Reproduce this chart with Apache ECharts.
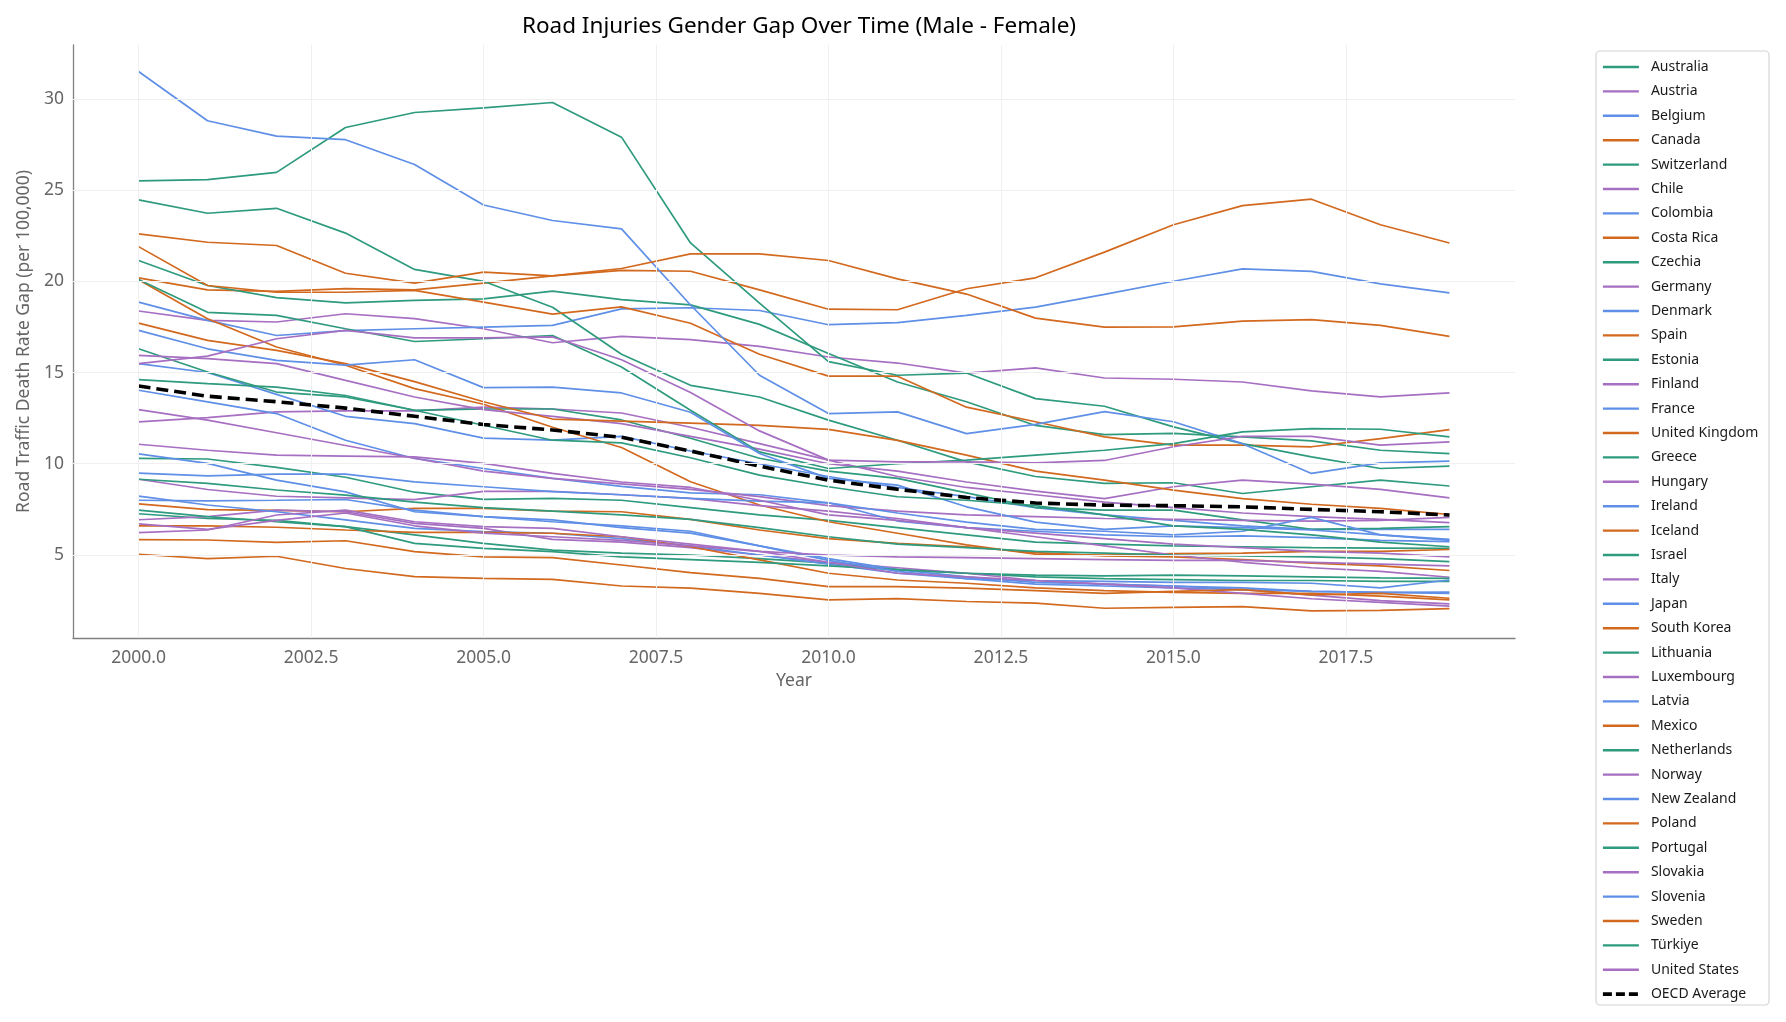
<!DOCTYPE html>
<html>
<head>
<meta charset="utf-8">
<script src="https://cdn.jsdelivr.net/npm/echarts@6/dist/echarts.min.js"></script>
<style>html,body{margin:0;padding:0;background:#fff}#c{width:1786px;height:1022px}</style>
</head>
<body>
<div id="c"></div>
<script>
const years = [2000,2001,2002,2003,2004,2005,2006,2007,2008,2009,2010,2011,2012,2013,2014,2015,2016,2017,2018,2019];
const xTicks = [2000,2002.5,2005,2007.5,2010,2012.5,2015,2017.5];
const yTicks = [5,10,15,20,25,30];

const australia    = [10.3,10.26,9.8,9.26,8.44,8.05,8.1,8.0,7.6,7.2,6.9,6.5,6.1,5.7,5.6,5.5,5.45,5.4,5.38,5.36];
const austria      = [12.3,12.53,12.84,12.9,12.9,13.1,13.0,12.78,12.0,11.1,10.2,9.3,8.7,8.3,7.9,7.6,7.3,7.1,6.95,6.77];
const belgium      = [15.49,15.0,13.8,12.6,12.2,11.4,11.3,11.5,10.7,10.0,9.3,8.7,8.2,7.6,7.2,6.9,6.6,6.4,6.4,6.4];
const canada       = [7.8,7.49,7.44,7.37,7.55,7.55,7.4,7.37,6.95,6.37,5.9,5.64,5.45,5.13,4.95,4.9,4.75,4.55,4.4,4.15];
const switzerland  = [7.26,7.0,6.9,6.55,6.1,5.64,5.27,5.1,5.0,4.8,4.55,4.2,4.0,3.8,3.7,3.65,3.6,3.6,3.55,3.55];
const chile        = [18.37,17.86,17.77,18.22,17.95,17.4,16.63,16.98,16.8,16.43,15.85,15.52,14.97,15.25,14.7,14.63,14.48,13.99,13.66,13.88];
const colombia     = [18.86,17.86,17.03,17.3,17.4,17.49,17.58,18.49,18.55,18.4,17.62,17.73,18.13,18.58,19.28,20.0,20.68,20.54,19.86,19.37];
const costaRica    = [20.19,19.53,19.45,19.6,19.53,19.9,20.3,20.6,20.55,19.53,18.47,18.44,19.59,20.19,21.6,23.1,24.15,24.5,23.1,22.1];
const czechia      = [16.3,15.03,13.93,13.66,12.93,13.0,13.0,12.4,11.4,10.3,9.6,9.2,8.4,7.6,7.46,7.46,6.92,6.41,6.46,6.55];
const germany      = [6.93,7.1,7.46,7.37,6.73,6.46,5.86,5.7,5.4,5.0,4.6,4.3,4.0,3.6,3.4,3.3,3.1,2.8,2.5,2.32];
const denmark      = [10.54,10.02,9.1,8.46,7.37,7.1,6.92,6.5,6.2,5.5,4.8,4.2,3.8,3.5,3.4,3.3,3.2,3.0,2.95,2.9];
const spain        = [20.08,17.95,16.4,15.4,14.12,13.26,12.0,10.89,9.01,7.74,6.82,6.19,5.55,5.05,5.0,5.07,5.1,5.2,5.2,5.3];
const estonia      = [24.46,23.73,24.0,22.64,20.65,20.0,18.58,16.0,14.3,13.66,12.39,11.29,10.1,9.3,8.92,8.96,8.37,8.74,9.1,8.78];
const finland      = [9.15,8.59,8.22,8.13,8.03,8.49,8.49,8.3,8.1,7.7,7.4,7.0,6.5,6.0,5.5,5.0,4.6,4.3,4.1,3.78];
const france       = [14.03,13.39,12.75,11.29,10.29,9.74,9.2,8.76,8.4,8.3,7.86,6.86,6.5,6.3,6.1,6.0,6.05,5.95,5.8,5.73];
const unitedKingdom= [5.04,4.8,4.93,4.26,3.81,3.72,3.66,3.3,3.18,2.9,2.54,2.61,2.45,2.36,2.08,2.13,2.17,1.94,1.96,2.06];
const greece       = [21.14,19.77,19.1,18.82,18.95,19.04,19.46,19.0,18.71,17.64,16.04,14.48,13.4,12.1,11.6,11.66,11.47,11.25,10.74,10.56];
const hungary      = [15.94,15.76,15.49,14.57,13.66,12.97,12.6,12.2,11.5,10.8,10.0,9.6,9.0,8.5,8.09,8.74,9.1,8.88,8.6,8.13];
const ireland      = [8.23,7.74,7.37,6.92,6.46,6.28,6.19,5.9,5.5,5.0,4.5,4.0,3.7,3.6,3.55,3.5,3.5,3.45,3.2,3.63];
const iceland      = [6.59,6.59,6.52,6.37,6.24,6.24,6.19,6.0,5.45,4.73,4.0,3.63,3.45,3.2,3.05,2.95,2.9,2.9,2.75,2.54];
const israel       = [7.46,7.1,6.82,6.55,5.64,5.36,5.18,4.9,4.75,4.6,4.4,4.2,4.0,3.9,3.85,3.9,3.85,3.8,3.75,3.72];
const italy        = [12.97,12.39,11.7,11.0,10.3,9.6,9.2,8.9,8.6,8.2,7.7,7.4,7.2,7.1,7.0,6.95,6.9,6.85,6.9,7.06];
const japan        = [8.0,7.97,8.0,8.04,7.46,7.1,6.82,6.6,6.3,5.5,4.7,4.1,3.7,3.4,3.3,3.2,3.1,3.0,2.95,2.96];
const southKorea   = [21.9,19.77,19.4,19.4,19.5,18.86,18.2,18.6,17.7,16.0,14.8,14.8,13.1,12.3,11.47,11.02,11.02,10.93,11.38,11.87];
const lithuania    = [25.5,25.57,25.97,28.43,29.25,29.5,29.8,27.9,22.1,18.8,15.6,14.85,14.97,13.57,13.15,12.02,11.1,10.38,9.74,9.87];
const luxembourg   = [6.7,6.4,6.9,7.3,6.6,6.2,6.0,5.8,5.5,5.2,5.0,4.9,4.85,4.8,4.75,4.7,4.7,4.6,4.5,4.4];
const latvia       = [31.5,28.8,27.96,27.76,26.4,24.18,23.33,22.87,18.7,14.85,12.75,12.84,11.65,12.16,12.86,12.3,11.1,9.47,10.05,10.14];
const mexico       = [22.6,22.14,21.96,20.44,19.9,20.5,20.3,20.7,21.5,21.5,21.14,20.13,19.3,17.98,17.49,17.5,17.82,17.9,17.58,16.98];
const netherlands  = [9.15,8.92,8.56,8.28,7.9,7.6,7.4,7.2,6.95,6.5,6.0,5.6,5.4,5.2,5.1,5.0,4.95,4.9,4.8,4.64];
const norway       = [6.22,6.37,7.19,7.46,6.82,6.55,6.46,6.0,5.6,5.2,4.6,4.0,3.8,3.6,3.4,3.2,2.9,2.6,2.4,2.2];
const newZealand   = [9.49,9.34,9.43,9.43,9.01,8.74,8.47,8.3,8.1,7.95,7.86,7.3,6.8,6.4,6.3,6.1,6.3,7.06,6.1,5.8];
const poland       = [17.71,16.76,16.21,15.49,14.5,13.4,12.45,12.34,12.23,12.1,11.88,11.28,10.47,9.6,9.1,8.55,8.09,7.78,7.55,7.22];
const portugal     = [20.1,18.3,18.13,17.4,16.7,16.85,17.03,15.3,12.93,10.65,9.74,10.0,10.2,10.47,10.74,11.1,11.75,11.93,11.89,11.47];
const slovakia     = [11.07,10.74,10.47,10.42,10.38,10.02,9.47,9.0,8.7,8.0,7.2,6.9,6.5,6.2,5.9,5.6,5.4,5.2,5.1,4.9];
const slovenia     = [17.31,16.3,15.67,15.4,15.7,14.17,14.2,13.88,12.82,10.56,9.2,8.83,7.64,6.8,6.4,6.6,6.5,6.37,6.1,5.86];
const sweden       = [5.84,5.82,5.69,5.78,5.18,4.9,4.85,4.45,4.03,3.72,3.27,3.27,3.18,3.05,2.9,3.0,3.1,2.81,2.9,2.63];
const turkiye      = [14.61,14.39,14.2,13.74,12.93,12.11,11.29,11.14,10.33,9.38,8.74,8.19,8.0,7.7,7.2,6.6,6.4,6.1,5.7,5.45];
const unitedStates = [15.49,15.9,16.85,17.31,16.9,16.9,16.95,15.7,13.9,11.8,10.2,10.1,10.1,10.05,10.18,10.93,11.5,11.5,11.02,11.2];
const oecdAverage  = [14.26,13.7,13.4,13.05,12.6,12.15,11.85,11.45,10.7,9.87,9.1,8.6,8.15,7.85,7.73,7.7,7.64,7.5,7.37,7.19];

const countries = [
  ['Australia', australia], ['Austria', austria], ['Belgium', belgium], ['Canada', canada],
  ['Switzerland', switzerland], ['Chile', chile], ['Colombia', colombia], ['Costa Rica', costaRica],
  ['Czechia', czechia], ['Germany', germany], ['Denmark', denmark], ['Spain', spain],
  ['Estonia', estonia], ['Finland', finland], ['France', france], ['United Kingdom', unitedKingdom],
  ['Greece', greece], ['Hungary', hungary], ['Ireland', ireland], ['Iceland', iceland],
  ['Israel', israel], ['Italy', italy], ['Japan', japan], ['South Korea', southKorea],
  ['Lithuania', lithuania], ['Luxembourg', luxembourg], ['Latvia', latvia], ['Mexico', mexico],
  ['Netherlands', netherlands], ['Norway', norway], ['New Zealand', newZealand], ['Poland', poland],
  ['Portugal', portugal], ['Slovakia', slovakia], ['Slovenia', slovenia], ['Sweden', sweden],
  ['Türkiye', turkiye], ['United States', unitedStates]
];
const palette = ['#2e9a7e', '#a66fc2', '#5f8fe6', '#d2691e'];

const series = countries.map(([name, vals], i) => ({
  name: name,
  type: 'line',
  symbol: 'none',
  data: years.map((y, k) => [y, vals[k]]),
  lineStyle: { color: palette[i % 4], width: 1.7 },
  itemStyle: { color: palette[i % 4] },
  z: 3,
  animation: false
}));
series.push({
  name: 'OECD Average',
  type: 'line',
  symbol: 'none',
  data: years.map((y, k) => [y, oecdAverage[k]]),
  lineStyle: { color: '#000', width: 3.6, type: [12, 6] },
  itemStyle: { color: '#000' },
  z: 4,
  animation: false
});
series.push({
  name: '_grid',
  type: 'line',
  data: [],
  silent: true,
  z: 1,
  animation: false,
  markLine: {
    silent: true,
    symbol: ['none', 'none'],
    label: { show: false },
    animation: false,
    lineStyle: { color: '#f0f0f0', type: 'solid', width: 1 },
    data: xTicks.map(v => ({ xAxis: v })).concat(yTicks.map(v => ({ yAxis: v })))
  }
});

const legendData = countries.map((c, i) => ({
  name: c[0],
  lineStyle: { width: 2.4, color: palette[i % 4] }
})).concat([{ name: 'OECD Average', lineStyle: { width: 3.8, color: '#000', type: [9, 4] } }]);

const chart = echarts.init(document.getElementById('c'), null, { renderer: 'canvas' });
chart.setOption({
  backgroundColor: '#fff',
  animation: false,
  textStyle: { fontFamily: 'Noto Sans' },
  title: {
    text: 'Road Injuries Gender Gap Over Time (Male - Female)',
    left: 794,
    textAlign: 'center',
    top: 10,
    textStyle: { fontSize: 22.5, fontWeight: 'normal', color: '#000', fontFamily: 'Noto Sans' }
  },
  grid: { left: 73, top: 45, right: 271, bottom: 384, containLabel: false },
  xAxis: {
    type: 'value',
    min: 1999.05,
    max: 2019.95,
    name: 'Year',
    nameLocation: 'middle',
    nameGap: 33,
    nameTextStyle: { color: '#666', fontSize: 17.5, fontFamily: 'Noto Sans' },
    axisLine: { show: true, onZero: false, lineStyle: { color: '#808080', width: 1.3 } },
    axisTick: { show: false },
    splitLine: { show: false },
    axisLabel: {
      customValues: xTicks,
      formatter: v => Number(v).toFixed(1),
      color: '#666', fontSize: 17.5, margin: 11, fontFamily: 'Noto Sans'
    }
  },
  yAxis: {
    type: 'value',
    min: 0.45,
    max: 32.95,
    name: 'Road Traffic Death Rate Gap (per 100,000)',
    nameLocation: 'middle',
    nameGap: 40,
    nameTextStyle: { color: '#666', fontSize: 17.5, fontFamily: 'Noto Sans' },
    axisLine: { show: true, onZero: false, lineStyle: { color: '#808080', width: 1.3 } },
    axisTick: { show: false },
    splitLine: { show: false },
    axisLabel: {
      customValues: yTicks,
      color: '#666', fontSize: 17.5, margin: 9, fontFamily: 'Noto Sans'
    }
  },
  legend: {
    data: legendData,
    orient: 'vertical',
    left: 1601,
    top: 60,
    height: 960,
    itemWidth: 36,
    itemHeight: 14,
    itemGap: 10.4,
    padding: 0,
    selectedMode: false,
    itemStyle: { color: 'rgba(0,0,0,0)', borderWidth: 0, opacity: 0 },
    textStyle: { fontSize: 14, color: '#1a1a1a', fontFamily: 'Noto Sans', padding: [0, 0, 0, 7] }
  },
  graphic: [{
    type: 'rect',
    z: 0,
    shape: { x: 1596, y: 51, width: 173, height: 954, r: 4 },
    style: { fill: '#fff', stroke: '#d4d4d4', lineWidth: 1.2 }
  }],
  series: series
});
</script>
</body>
</html>
